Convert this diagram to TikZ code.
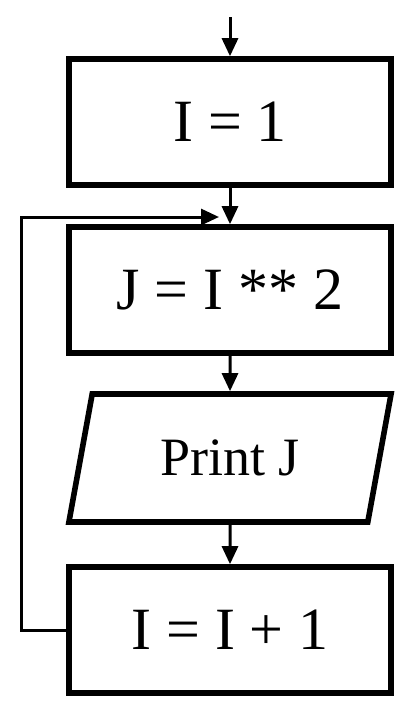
\documentclass[tikz,border=0pt]{standalone}
\usepackage{fontspec}
\setmainfont{Liberation Serif}
\usetikzlibrary{arrows.meta,shapes.geometric}

\begin{document}
\begin{tikzpicture}[x=0.5pt,y=-0.5pt,
    box/.style={draw,line width=2.8pt,minimum width=161pt,minimum height=63pt,inner sep=0pt,font=\fontsize{30}{36}\selectfont},
    iobox/.style={box,trapezium,trapezium left angle=72,trapezium right angle=108,trapezium stretches=true,minimum width=162pt,minimum height=64pt,font=\fontsize{27}{32}\selectfont},
    flow/.style={line width=1.5pt,-{Triangle[length=9pt,width=8pt]}}]
  \useasboundingbox (0,0) rectangle (402,702);
  \coordinate (start) at (230,17);
  \node[box]   (init)   at (230,122) {I = 1};
  \node[box]   (square) at (230,290) {J = I ** 2};
  \node[iobox] (print)  at (230,458) {Print J};
  \node[box]   (incr)   at (230,630) {I = I + 1};
  \coordinate (loopin) at (219,217);
  % main flow
  \draw[flow] (start) -- (init.north);
  \draw[flow] (init.south) -- (square.north);
  \draw[flow] (square.south) -- (print.north);
  \draw[flow] (print.south) -- (incr.north);
  % loop back
  \draw[flow] (incr.west) -- ++(-45,0) |- (loopin);
\end{tikzpicture}
\end{document}
